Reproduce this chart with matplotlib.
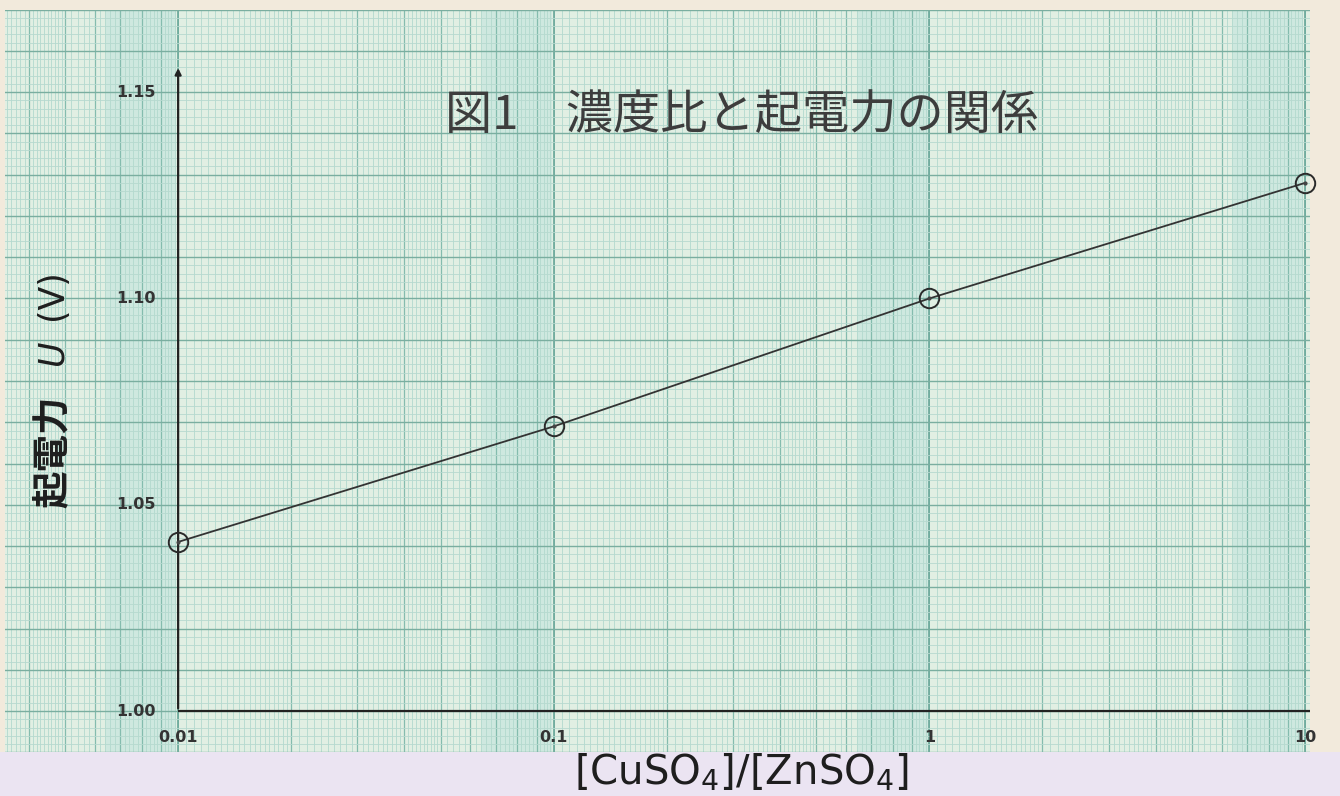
import matplotlib.pyplot as plt
import matplotlib.patches as mpatches
import numpy as np

# concentration ratio [CuSO4]/[ZnSO4] and measured EMF (V)
ratio = [0.01, 0.1, 1, 10]
emf = [1.041, 1.069, 1.100, 1.128]

x_ticks = [0.01, 0.1, 1, 10]
x_tick_labels = ['0.01', '0.1', '1', '10']
y_ticks = [1.00, 1.05, 1.10, 1.15]
y_tick_labels = ['1.00', '1.05', '1.10', '1.15']

plt.rcParams['mathtext.fontset'] = 'custom'
plt.rcParams['mathtext.rm'] = 'DejaVu Sans'

fig = plt.figure(figsize=(13.4, 7.96), dpi=100, facecolor='#f2eadc')

# lavender strip under the graph paper
fig.patches.append(mpatches.Rectangle((0, 0), 1, 44 / 796, transform=fig.transFigure,
                                      facecolor='#ebe4f2', edgecolor='none', zorder=0))

# graph paper area
ax = fig.add_axes([5 / 1340, 44 / 796, 1305 / 1340, 742 / 796])
ax.set_xscale('log')
ax.set_xlim(0.00346, 10.31)
ax.set_ylim(0.9901, 1.1699)
ax.set_facecolor('#e1efe3')
for s in ax.spines.values():
    s.set_visible(False)
ax.set_xticks([])
ax.set_yticks([])
ax.minorticks_off()

# darker bands where the log rulings crowd together
for d in [0.001, 0.01, 0.1, 1]:
    ax.axvspan(d * 6.4, d * 9.9, color='#bfe3dc', alpha=0.55, lw=0, zorder=0)

# semi-log rulings
fine_x, mid_x, dec_x = [], [], []
for d in [0.001, 0.01, 0.1, 1, 10]:
    fine_x += list(d * np.arange(1, 2, 0.05)) + list(d * np.arange(2, 5, 0.1)) + list(d * np.arange(5, 10, 0.2))
    mid_x += list(d * np.arange(2, 10))
    dec_x.append(d)
ax.vlines(fine_x, 0.98, 1.18, color='#b2d9ce', lw=0.6, zorder=1)
ax.vlines(mid_x, 0.98, 1.18, color='#84bcae', lw=0.9, zorder=1)
ax.vlines(dec_x, 0.98, 1.18, color='#5c9f91', lw=1.1, zorder=1)

fine_y = np.arange(0.990, 1.1701, 0.002)
major_y = np.arange(0.990, 1.1701, 0.010)
ax.hlines(fine_y, 0.001, 20, color='#b6d9cf', lw=0.6, zorder=1)
ax.hlines(major_y, 0.001, 20, color='#7aaea0', lw=1.0, zorder=1)

# drawn axes
ax.plot([0.01, 10.31], [1.0, 1.0], color='#222222', lw=1.6, zorder=3, solid_capstyle='butt')
ax.annotate('', xy=(0.01, 1.1565), xytext=(0.01, 1.0),
            arrowprops=dict(arrowstyle='-|>', color='#222222', lw=1.6, mutation_scale=9),
            zorder=3)

tick_font = dict(family=['DejaVu Sans'], fontsize=11.5,
                 fontweight='bold', color='#333333')
for v, lab in zip(y_ticks, y_tick_labels):
    ax.text(0.00869, v, lab, ha='right', va='center', zorder=4, **tick_font)
for v, lab in zip(x_ticks, x_tick_labels):
    ax.text(v, 0.9935, lab, ha='center', va='center', zorder=4, **tick_font)

# data
ax.plot(ratio, emf, color='#333333', lw=1.3, zorder=5, clip_on=False)
ax.plot(ratio, emf, ls='none', marker='o', ms=14, mfc='none', mec='#2a2a2a', mew=1.4,
        zorder=6, clip_on=False)
ax.plot(ratio, emf, ls='none', marker='o', ms=2, color='#444444', zorder=6, clip_on=False)

# handwritten-style title
ax.text(440 / 1305, 1 - 106 / 742, '図1\u3000濃度比と起電力の関係', transform=ax.transAxes,
        family=['Noto Sans CJK JP', 'DejaVu Sans'], fontsize=34, color='#3d3d3d',
        ha='left', va='center', zorder=4)

# axis titles
cjk = ['Noto Sans CJK JP', 'DejaVu Sans']
fig.text(52 / 1340, 1 - 452 / 796, '起電力', rotation=90, ha='center', va='center',
         family=cjk, fontsize=27, fontweight='bold', color='#1e1e1e')
fig.text(52 / 1340, 1 - 352 / 796, 'U', rotation=90, ha='center', va='center',
         family=['DejaVu Sans'], fontsize=25, style='italic', color='#1e1e1e')
fig.text(52 / 1340, 1 - 295 / 796, '(V)', rotation=90, ha='center', va='center',
         family=['DejaVu Sans'], fontsize=25, color='#1e1e1e')

fig.text(741 / 1340, 1 - 773 / 796, r'[CuSO$_\mathregular{4}$]/[ZnSO$_\mathregular{4}$]',
         ha='center', va='center', family=['DejaVu Sans'],
         fontsize=29, color='#1e1e1e')

fig.savefig('out.png', dpi=100, facecolor=fig.get_facecolor())
